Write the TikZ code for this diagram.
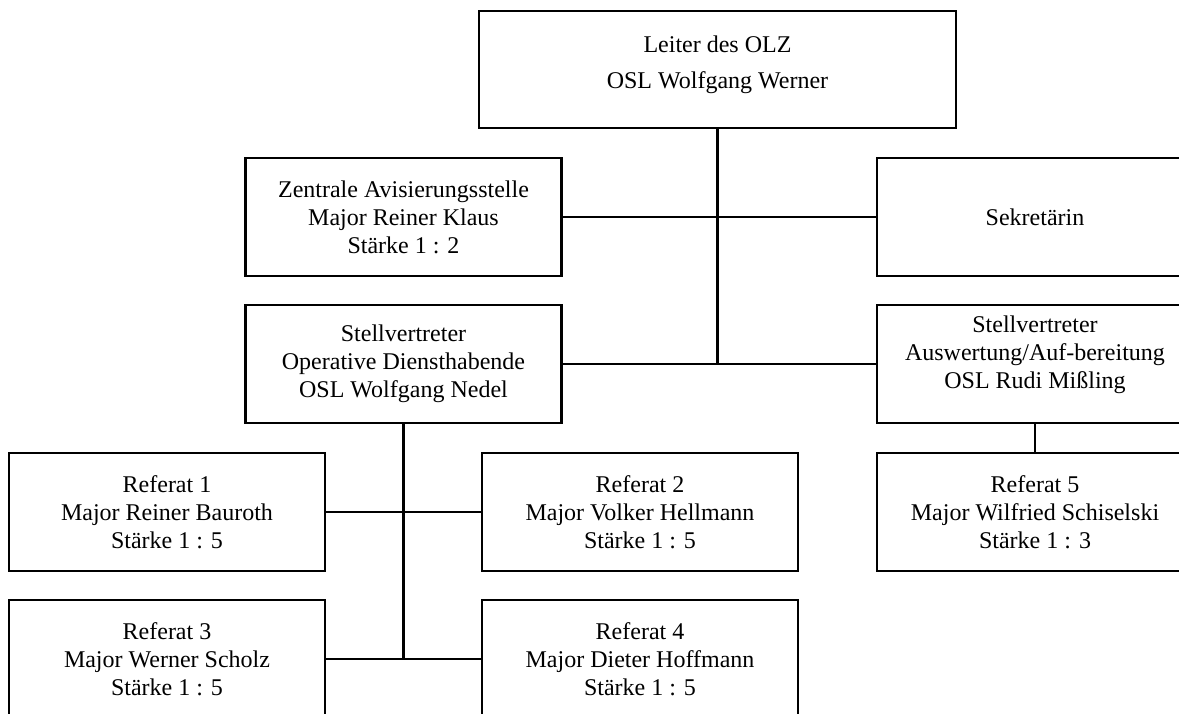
\documentclass[tikz,border=0pt]{standalone}
\usepackage{fontspec}
\setmainfont{Liberation Serif}
\begin{document}
\begin{tikzpicture}[x=0.5pt,y=-0.5pt,
  unit/.style={draw,line width=1.2pt,minimum width=158pt,minimum height=58.75pt,
    inner sep=0pt,align=center,font=\fontsize{12}{14}\selectfont},
  unittext/.style={inner sep=0pt,align=center,font=\fontsize{12}{14}\selectfont},
  link/.style={line width=1.05pt}]
\useasboundingbox (0,0) rectangle (1179,713);
\clip (0,0) rectangle (1179,713);

% head of the centre
\node[unit,minimum width=238.5pt] (leiter) at (717.5,69.5) {};
\node[unittext,anchor=north] (leitertxt) at (717.5,35.5)
  {Leiter des OLZ\\[4pt]OSL Wolfgang Werner};

% staff level
\node[unit] (zas) at (403.5,217) {Zentrale Avisierungsstelle\\Major Reiner Klaus\\Stärke 1 : 2};
\node[unit] (sek) at (1035,217) {Sekretärin};

% deputies
\node[unit] (stvl) at (403.5,364) {Stellvertreter\\Operative Diensthabende\\OSL Wolfgang Nedel};
\node[unit] (stvr) at (1035,364) {};
\node[unittext] (stvrtxt) at (1035,354.5) {Stellvertreter\\Auswertung/Auf-bereitung\\OSL Rudi Mißling};

% departments
\node[unit] (ref1) at (167,512) {Referat 1\\Major Reiner Bauroth\\Stärke 1 : 5};
\node[unit] (ref2) at (640,512) {Referat 2\\Major Volker Hellmann\\Stärke 1 : 5};
\node[unit] (ref3) at (167,659) {Referat 3\\Major Werner Scholz\\Stärke 1 : 5};
\node[unit] (ref4) at (640,659) {Referat 4\\Major Dieter Hoffmann\\Stärke 1 : 5};
\node[unit] (ref5) at (1035,512) {Referat 5\\Major Wilfried Schiselski\\Stärke 1 : 3};

% connectors
\draw[link] (leiter.south) -- (leiter.south |- stvl.east);
\draw[link] (zas.east) -- (sek.west);
\draw[link] (stvl.east) -- (stvr.west);
\draw[link] (stvl.south) -- (stvl.south |- ref3.east);
\draw[link] (ref1.east) -- (ref2.west);
\draw[link] (ref3.east) -- (ref4.west);
\draw[link] (stvr.south) -- (ref5.north);
\end{tikzpicture}
\end{document}
